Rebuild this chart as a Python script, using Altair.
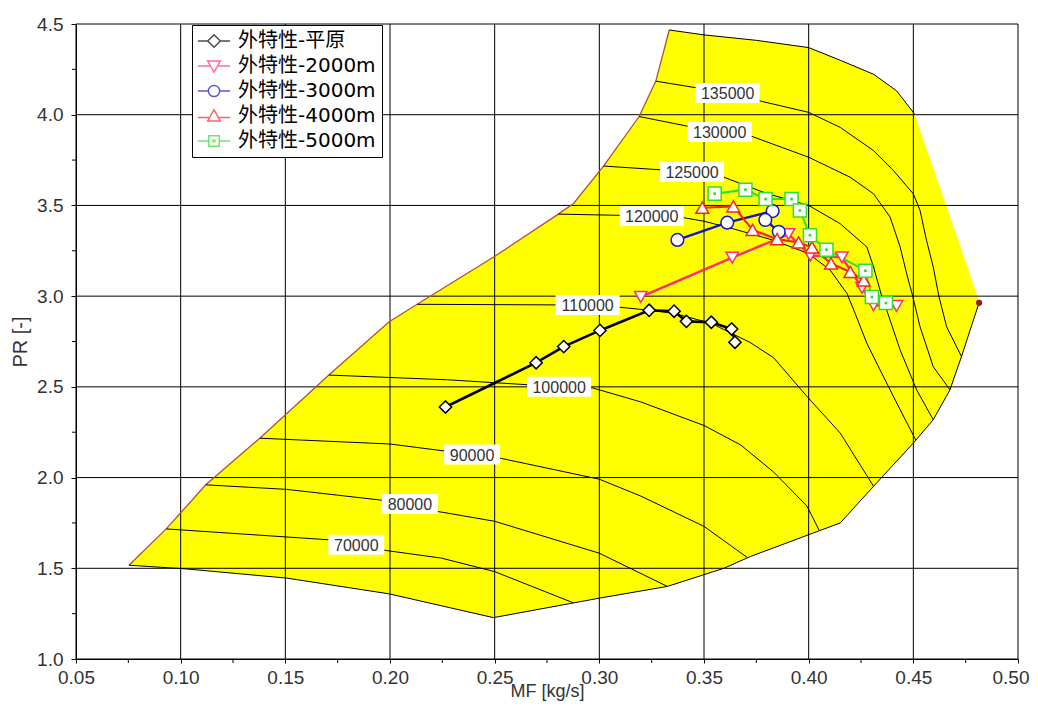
import altair as alt
import pandas as pd

# ---------------- axes ----------------
x_ticks = [0.05, 0.10, 0.15, 0.20, 0.25, 0.30, 0.35, 0.40, 0.45, 0.50]
y_ticks = [1.0, 1.5, 2.0, 2.5, 3.0, 3.5, 4.0, 4.5]
x_minor = [0.075, 0.125, 0.175, 0.225, 0.275, 0.325, 0.375, 0.425, 0.475]
y_minor = [1.25, 1.75, 2.25, 2.75, 3.25, 3.75, 4.25]

# ---------------- series (external characteristic) ----------------
series_names = ["外特性-平原", "外特性-2000m", "外特性-3000m", "外特性-4000m", "外特性-5000m"]
series_colors = ["#000000", "#FF2D6A", "#1414C8", "#F0281E", "#2EE02E"]
series_shapes = ["diamond", "triangle-down", "circle", "triangle-up", "square"]
series_sizes = [150, 170, 105, 170, 115]
series_widths = [2.6, 2.0, 2.0, 2.0, 2.0]

pingyuan_mf = [0.2265, 0.2698, 0.2830, 0.3003, 0.3238, 0.3357, 0.3416, 0.3535, 0.3632, 0.3648]
pingyuan_pr = [2.389, 2.633, 2.722, 2.811, 2.922, 2.917, 2.861, 2.856, 2.819, 2.746]

h2000_mf = [0.3198, 0.3635, 0.3904, 0.4008, 0.4159, 0.4255, 0.4310, 0.4420]
h2000_pr = [2.996, 3.212, 3.342, 3.224, 3.214, 3.046, 2.950, 2.946]

h3000_mf = [0.3373, 0.3611, 0.3828, 0.3793, 0.3857]
h3000_pr = [3.310, 3.405, 3.469, 3.420, 3.355]

h4000_mf = [0.3492, 0.3640, 0.3732, 0.3849, 0.3952, 0.4016, 0.4107, 0.4199, 0.4263]
h4000_pr = [3.487, 3.495, 3.365, 3.314, 3.296, 3.269, 3.180, 3.133, 3.087]

h5000_mf = [0.3551, 0.3698, 0.3794, 0.3918, 0.3958, 0.4006, 0.4085, 0.4271, 0.4302, 0.4369]
h5000_pr = [3.565, 3.587, 3.535, 3.535, 3.472, 3.336, 3.256, 3.140, 2.995, 2.962]

# ---------------- compressor map boundary ----------------
surge_mf = [0.0753, 0.0931, 0.112, 0.1378, 0.1708, 0.1996, 0.213, 0.2497, 0.2804, 0.2877, 0.302, 0.319, 0.327, 0.3334]
surge_pr = [1.517, 1.717, 1.96, 2.217, 2.565, 2.859, 2.955, 3.217, 3.452, 3.511, 3.717, 3.99, 4.185, 4.467]

top_mf = [0.3334, 0.35, 0.375, 0.40, 0.4151, 0.431, 0.442, 0.4505]
top_pr = [4.467, 4.44, 4.41, 4.37, 4.30, 4.223, 4.132, 4.005]

right_mf = [0.4505, 0.4786, 0.4814]
right_pr = [4.005, 3.07, 2.963]

choke_mf = [0.4814, 0.473, 0.4675, 0.4595, 0.45, 0.431, 0.4151, 0.3722, 0.3595, 0.3325, 0.3008, 0.2494]
choke_pr = [2.963, 2.667, 2.4835, 2.3187, 2.19, 1.952, 1.75, 1.565, 1.50, 1.40, 1.337, 1.228]

bottom_mf = [0.2494, 0.1996, 0.1506, 0.1031, 0.0753]
bottom_pr = [1.228, 1.359, 1.446, 1.496, 1.517]

surge_point_mf = [0.4814]
surge_point_pr = [2.963]

# ---------------- speed lines ----------------
n70_mf = [0.0931, 0.1708, 0.1839, 0.1982, 0.2246, 0.25, 0.2875]
n70_pr = [1.717, 1.657, 1.630, 1.598, 1.556, 1.4815, 1.31]
n80_mf = [0.112, 0.1506, 0.1963, 0.2095, 0.2219, 0.25, 0.30, 0.3325]
n80_pr = [1.96, 1.935, 1.875, 1.855, 1.815, 1.759, 1.583, 1.40]
n90_mf = [0.1378, 0.20, 0.2392, 0.2532, 0.30, 0.3198, 0.35, 0.3706]
n90_pr = [2.217, 2.185, 2.127, 2.1055, 1.991, 1.898, 1.731, 1.56]
n100_mf = [0.1708, 0.2274, 0.2808, 0.2968, 0.3198, 0.35, 0.3675, 0.3833, 0.3992, 0.405]
n100_pr = [2.565, 2.539, 2.501, 2.494, 2.417, 2.287, 2.18, 2.03, 1.8425, 1.71]
n110_mf = [0.213, 0.2944, 0.3097, 0.3238, 0.3357, 0.3535, 0.372, 0.3833, 0.3992, 0.4151, 0.431]
n110_pr = [2.955, 2.951, 2.939, 2.922, 2.905, 2.85, 2.745, 2.66, 2.447, 2.245, 1.952]
n120_mf = [0.2804, 0.325, 0.3389, 0.35, 0.3643, 0.3833, 0.40, 0.4103, 0.4183, 0.4222, 0.4278, 0.4341, 0.4421, 0.4512]
n120_pr = [3.452, 3.442, 3.435, 3.413, 3.37, 3.3077, 3.2344, 3.1429, 3.0147, 2.9048, 2.74, 2.5934, 2.4103, 2.206]
n125_mf = [0.302, 0.3443, 0.3579, 0.3675, 0.3802, 0.40, 0.4151, 0.4278, 0.431, 0.4349, 0.4389, 0.4437, 0.4516, 0.4595]
n125_pr = [3.717, 3.685, 3.663, 3.62, 3.565, 3.50, 3.399, 3.271, 3.161, 3.0, 2.868, 2.703, 2.4835, 2.3187]
n130_mf = [0.319, 0.3429, 0.3575, 0.373, 0.40, 0.4198, 0.431, 0.4389, 0.4437, 0.4468, 0.4497, 0.4532, 0.4595, 0.4675]
n130_pr = [3.99, 3.935, 3.905, 3.88, 3.7656, 3.6557, 3.564, 3.436, 3.271, 3.1245, 3.0, 2.8315, 2.6117, 2.4835]
n135_mf = [0.327, 0.3613, 0.377, 0.40, 0.4151, 0.431, 0.4405, 0.45, 0.4532, 0.4563, 0.4595, 0.4622, 0.4659, 0.473]
n135_pr = [4.185, 4.12, 4.075, 4.013, 3.93, 3.802, 3.692, 3.564, 3.4725, 3.3077, 3.161, 3.0, 2.8315, 2.667]

label_text = ["70000", "80000", "90000", "100000", "110000", "120000", "125000", "130000", "135000"]
label_mf = [0.1839, 0.2095, 0.2392, 0.2808, 0.2944, 0.3250, 0.3443, 0.3575, 0.3613]
label_pr = [1.630, 1.855, 2.127, 2.501, 2.951, 3.442, 3.685, 3.905, 4.120]

# ---------------- build tables ----------------
series_rows = []
for name, mfs, prs in zip(series_names,
                          [pingyuan_mf, h2000_mf, h3000_mf, h4000_mf, h5000_mf],
                          [pingyuan_pr, h2000_pr, h3000_pr, h4000_pr, h5000_pr]):
    for i, (m, p) in enumerate(zip(mfs, prs)):
        series_rows.append({"series": name, "i": i, "mf": m, "pr": p})
sdf = pd.DataFrame(series_rows)

poly_mf = surge_mf + top_mf[1:] + right_mf[1:] + choke_mf[1:] + bottom_mf[1:]
poly_pr = surge_pr + top_pr[1:] + right_pr[1:] + choke_pr[1:] + bottom_pr[1:]
poly_df = pd.DataFrame({"i": list(range(len(poly_mf))), "mf": poly_mf, "pr": poly_pr})

surge_df = pd.DataFrame({"i": list(range(len(surge_mf))), "mf": surge_mf, "pr": surge_pr})
bound_rows = []
for part, mfs, prs in [("top", top_mf, top_pr), ("choke", choke_mf + bottom_mf[1:], choke_pr + bottom_pr[1:])]:
    for i, (m, p) in enumerate(zip(mfs, prs)):
        bound_rows.append({"part": part, "i": i, "mf": m, "pr": p})
bound_df = pd.DataFrame(bound_rows)

speed_rows = []
for sp, mfs, prs in [("70000", n70_mf, n70_pr), ("80000", n80_mf, n80_pr), ("90000", n90_mf, n90_pr),
                     ("100000", n100_mf, n100_pr), ("110000", n110_mf, n110_pr), ("120000", n120_mf, n120_pr),
                     ("125000", n125_mf, n125_pr), ("130000", n130_mf, n130_pr), ("135000", n135_mf, n135_pr)]:
    for i, (m, p) in enumerate(zip(mfs, prs)):
        speed_rows.append({"speed": sp, "i": i, "mf": m, "pr": p})
speed_df = pd.DataFrame(speed_rows)

label_df = pd.DataFrame({"label": label_text, "mf": label_mf, "pr": label_pr,
                         "digits": [str(len(t)) for t in label_text]})
vrule_df = pd.DataFrame({"mf": x_ticks})
hrule_df = pd.DataFrame({"pr": y_ticks})
xminor_df = pd.DataFrame({"mf": x_minor})
yminor_df = pd.DataFrame({"pr": y_minor})
dot_df = pd.DataFrame({"mf": surge_point_mf, "pr": surge_point_pr})

# ---------------- shared encodings ----------------
FONT = "Liberation Sans"
xscale = alt.Scale(domain=[0.05, 0.50], nice=False, zero=False)
yscale = alt.Scale(domain=[1.0, 4.5], nice=False, zero=False)
xaxis = alt.Axis(values=x_ticks, format=".2f", grid=False, title="MF [kg/s]",
                 tickSize=4, tickColor="black", domainColor="black", labelFlush=False,
                 labelOverlap=False, labelFont=FONT, labelFontSize=19, labelColor="#333333",
                 labelAlign={"condition": {"test": "datum.value >= 0.499", "value": "right"}, "value": "center"},
                 labelOffset={"condition": {"test": "datum.value >= 0.499", "value": 11}, "value": 0},
                 labelPadding=5, titleFont=FONT, titleFontSize=18, titleFontWeight="normal",
                 titleColor="#333333", titlePadding=-5)
yaxis = alt.Axis(values=y_ticks, format=".1f", grid=False, title="PR [-]",
                 tickSize=5, tickColor="black", domainColor="black", labelFlush=False,
                 labelOverlap=False, labelFont=FONT, labelFontSize=19, labelColor="#333333",
                 labelPadding=8, titleFont=FONT, titleFontSize=20, titleFontWeight="normal",
                 titleColor="#333333", titlePadding=6)
X = alt.X("mf:Q", scale=xscale, axis=xaxis)
Y = alt.Y("pr:Q", scale=yscale, axis=yaxis)

# ---------------- layers ----------------
poly = alt.Chart(poly_df).mark_line(fill="#FFFF00", strokeOpacity=0).encode(x=X, y=Y, order="i:Q")

vrules = alt.Chart(vrule_df).mark_rule(color="black", strokeWidth=1).encode(x=X)
hrules = alt.Chart(hrule_df).mark_rule(color="black", strokeWidth=1).encode(y=Y)
xminor_ticks = alt.Chart(xminor_df).mark_tick(orient="vertical", size=4, thickness=1, color="black",
                                              opacity=1, yOffset=2).encode(x=X, y=alt.datum(1.0))
yminor_ticks = alt.Chart(yminor_df).mark_tick(orient="horizontal", size=4, thickness=1, color="black",
                                              opacity=1, xOffset=-2).encode(y=Y, x=alt.datum(0.05))

surge_line = alt.Chart(surge_df).mark_line(color="#B0503C", strokeWidth=1.3).encode(x=X, y=Y, order="i:Q")
bound_lines = alt.Chart(bound_df).mark_line(color="black", strokeWidth=1).encode(
    x=X, y=Y, detail="part:N", order="i:Q")
speed_lines = alt.Chart(speed_df).mark_line(color="black", strokeWidth=1).encode(
    x=X, y=Y, detail="speed:N", order="i:Q")

box5 = "M-2.8,-1H2.8V1H-2.8Z"
box6 = "M-3.2,-1H3.2V1H-3.2Z"
boxes = alt.Chart(label_df).mark_point(filled=True, fill="white", opacity=1, size=400, strokeWidth=0).encode(
    x=X, y=Y,
    shape=alt.Shape("digits:N", scale=alt.Scale(domain=["5", "6"], range=[box5, box6]), legend=None))
texts = alt.Chart(label_df).mark_text(font=FONT, fontSize=16, color="#333333", baseline="middle",
                                      align="center", dy=1).encode(x=X, y=Y, text="label:N")

stroke_scale = alt.Scale(domain=series_names, range=series_colors)
series_lines = alt.Chart(sdf).mark_line().encode(
    x=X, y=Y, detail="series:N", order="i:Q",
    stroke=alt.Stroke("series:N", scale=stroke_scale, legend=None),
    strokeWidth=alt.StrokeWidth("series:N", scale=alt.Scale(domain=series_names, range=series_widths), legend=None))
series_points = alt.Chart(sdf).mark_point(filled=True, fill="white", opacity=1, strokeWidth=1.5).encode(
    x=X, y=Y,
    stroke=alt.Stroke("series:N", scale=stroke_scale, legend=None),
    shape=alt.Shape("series:N", scale=alt.Scale(domain=series_names, range=series_shapes), legend=None),
    size=alt.Size("series:N", scale=alt.Scale(domain=series_names, range=series_sizes), legend=None))
green_dots = alt.Chart(sdf).transform_filter(alt.datum.series == series_names[4]).mark_square(
    size=7, color="#2EE02E", opacity=1).encode(x=X, y=Y)
red_dot = alt.Chart(dot_df).mark_circle(size=38, color="#A01414", opacity=1).encode(x=X, y=Y)

legend_paths = [
    "M-2.3,0H-0.9M0.9,0H2.3M0,-0.9L0.9,0L0,0.9L-0.9,0Z",
    "M-2.3,0H-0.5M0.5,0H2.3M-0.9,-0.7H0.9L0,0.9Z",
    "M-2.3,0H-0.8M0.8,0H2.3M-0.8,0A0.8,0.8,0,1,1,0.8,0A0.8,0.8,0,1,1,-0.8,0Z",
    "M-2.3,0.2H-0.6M0.6,0.2H2.3M0,-0.9L0.9,0.7H-0.9Z",
    "M-2.3,0H-0.75M0.75,0H2.3M-0.75,-0.75H0.75V0.75H-0.75ZM-0.12,-0.12H0.12V0.12H-0.12Z",
]
leg = alt.Legend(title=None, orient="none", legendX=116, legendY=1,
                 labelFont="DejaVu Sans, Noto Sans CJK SC", labelFontSize=20, labelColor="black",
                 symbolSize=196, symbolStrokeWidth=1.5, symbolFillColor="white",
                 symbolOffset=6, labelOffset=14, padding=6, rowPadding=5,
                 fillColor="white", strokeColor="black", cornerRadius=0)
legend_layer = alt.Chart(sdf).transform_filter("false").mark_point(
    filled=False, fill="white", strokeWidth=1.5).encode(
    x=X, y=Y,
    color=alt.Color("series:N", scale=alt.Scale(domain=series_names, range=series_colors), legend=leg),
    shape=alt.Shape("series:N", scale=alt.Scale(domain=series_names, range=legend_paths), legend=leg))

chart = alt.layer(
    poly, vrules, hrules, xminor_ticks, yminor_ticks, surge_line, bound_lines, speed_lines, boxes, texts,
    series_lines, series_points, green_dots, red_dot, legend_layer
).resolve_scale(
    shape="independent", color="independent"
).properties(
    width=942, height=635,
    autosize=alt.AutoSizeParams(type="none"),
    padding={"left": 68, "top": 16, "right": 12, "bottom": 43},
    background="white",
).configure_view(strokeWidth=0)

chart.save("out.html", embed_options={"renderer": "svg", "actions": False})
